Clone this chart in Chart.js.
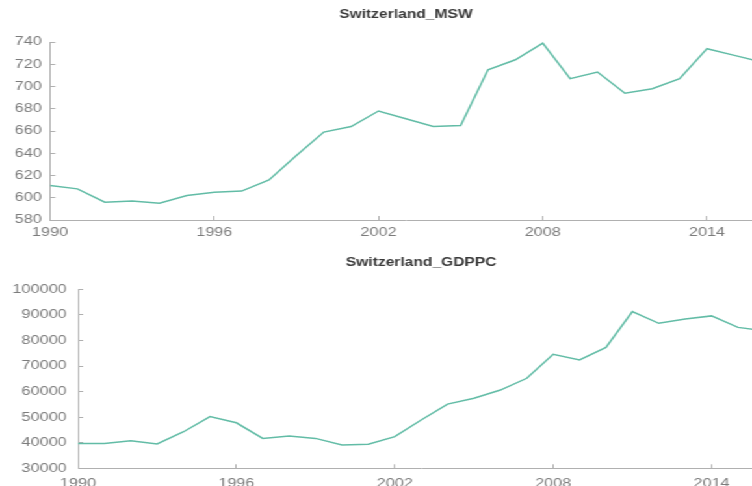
<!DOCTYPE html>
<html>
<head>
<meta charset="utf-8">
<script src="https://cdn.jsdelivr.net/npm/chart.js@4/dist/chart.umd.min.js"></script>
<style>
  html, body { margin: 0; padding: 0; background: #ffffff; overflow: hidden; width: 752px; height: 486px; }
  #wrap { position: absolute; left: 0; top: 0; width: 590px; transform: scaleX(1.3); transform-origin: 0 0; }
  canvas { display: block; }
</style>
</head>
<body>
<div id="wrap">
  <canvas id="c1" width="590" height="243"></canvas>
  <canvas id="c2" width="590" height="260"></canvas>
</div>
<script>
// ---- data ----
const years = [1990, 1991, 1992, 1993, 1994, 1995, 1996, 1997, 1998, 1999, 2000, 2001, 2002,
               2003, 2004, 2005, 2006, 2007, 2008, 2009, 2010, 2011, 2012, 2013, 2014, 2015, 2016];
const mswValues = [611, 608, 596, 597, 595, 602, 605, 606, 616, 638, 659, 664, 678,
                   671, 664, 665, 715, 724, 739, 707, 713, 694, 698, 707, 734, 728, 722];
const gdppcValues = [39700, 39700, 40800, 39500, 44300, 50200, 47800, 41700, 42600, 41700, 39100, 39400, 42400,
                     48900, 55100, 57400, 60600, 65200, 74600, 72400, 77300, 91300, 86700, 88400, 89600, 85100, 83800];
const xTickLabels = [1990, 1996, 2002, 2008, 2014];
const mswTicks = [580, 600, 620, 640, 660, 680, 700, 720, 740];
const gdppcTicks = [30000, 40000, 50000, 60000, 70000, 80000, 90000, 100000];
const titles = ['Switzerland_MSW', 'Switzerland_GDPPC'];

// ---- styling ----
const FONT = '"Liberation Sans", Arial, Helvetica, sans-serif';
const LINE_COLOR = '#62bca6';
const AXIS_COLOR = '#b0b0b0';
const TICK_TEXT = '#7c7c7c';

function makeChart(canvasId, title, values, yTicks, cfg) {
  const pts = years.map((y, i) => ({ x: y, y: values[i] }));
  return new Chart(document.getElementById(canvasId), {
    type: 'line',
    data: {
      datasets: [{
        data: pts,
        borderColor: LINE_COLOR,
        borderWidth: 1.5,
        pointRadius: 0,
        tension: 0,
        fill: false
      }]
    },
    options: {
      responsive: false,
      animation: false,
      layout: { padding: { left: 0, right: cfg.padRight, top: 0, bottom: 0 } },
      plugins: {
        legend: { display: false },
        tooltip: { enabled: false },
        title: {
          display: true,
          text: title,
          fullSize: false,
          color: '#3a3a3a',
          font: { family: FONT, size: 12, weight: 'bold', lineHeight: 1.2 },
          padding: { top: cfg.titleTop, bottom: cfg.titleBottom }
        }
      },
      scales: {
        x: {
          type: 'linear',
          min: 1990,
          max: 2016,
          afterBuildTicks: s => { s.ticks = xTickLabels.map(v => ({ value: v })); },
          afterFit: s => { s.height = cfg.xHeight; },
          border: { display: true, color: AXIS_COLOR, width: 1 },
          grid: { display: true, drawOnChartArea: false, drawTicks: true, tickLength: -4, color: AXIS_COLOR },
          ticks: {
            color: TICK_TEXT,
            font: { family: FONT, size: 12.5 },
            padding: cfg.xPad,
            maxRotation: 0,
            autoSkip: false,
            callback: v => String(v)
          }
        },
        y: {
          type: 'linear',
          min: yTicks[0],
          max: yTicks[yTicks.length - 1],
          afterBuildTicks: s => { s.ticks = yTicks.map(v => ({ value: v })); },
          afterFit: s => { s.width = cfg.yWidth; },
          border: { display: true, color: AXIS_COLOR, width: 1 },
          grid: { display: true, drawOnChartArea: false, drawTicks: true, tickLength: -4, color: AXIS_COLOR },
          ticks: {
            color: TICK_TEXT,
            font: { family: FONT, size: 12.5 },
            padding: cfg.yPad,
            autoSkip: false,
            callback: v => String(v)
          }
        }
      }
    }
  });
}

makeChart('c1', titles[0], mswValues, mswTicks,
  { padRight: 4, titleTop: 7, titleBottom: 20.6, xHeight: 23, xPad: 9.5, yWidth: 38.5, yPad: 10.4 });
makeChart('c2', titles[1], gdppcValues, gdppcTicks,
  { padRight: 2, titleTop: 12.8, titleBottom: 19.1, xHeight: 34.7, xPad: 12, yWidth: 60, yPad: 12.7 });
</script>
</body>
</html>
